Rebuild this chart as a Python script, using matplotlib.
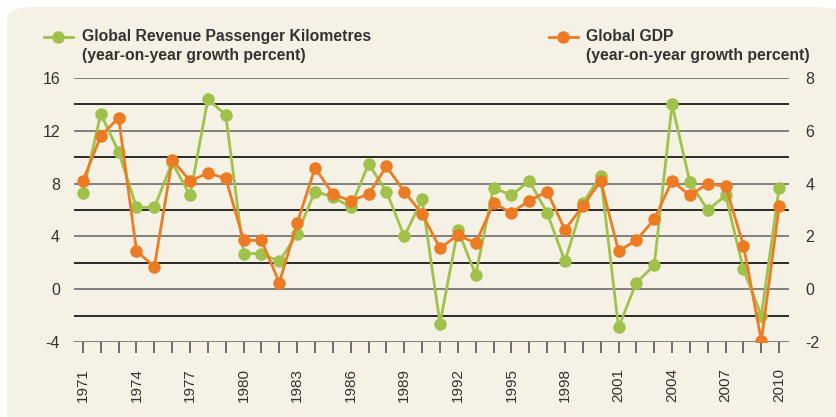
import numpy as np
import matplotlib.pyplot as plt
from matplotlib.patches import FancyBboxPatch
from matplotlib.lines import Line2D

# data
years = list(range(1971, 2011))
rpk_growth = [7.3, 13.3, 10.4, 6.2, 6.2, 9.6, 7.1, 14.4, 13.2, 2.7,
              2.7, 2.1, 4.2, 7.4, 7.0, 6.2, 9.5, 7.4, 4.0, 6.8,
              -2.6, 4.5, 1.1, 7.7, 7.1, 8.2, 5.8, 2.1, 6.5, 8.6,
              -2.9, 0.5, 1.8, 14.0, 8.1, 6.0, 7.1, 1.5, -2.0, 7.7]
gdp_growth = [4.1, 5.8, 6.5, 1.45, 0.85, 4.9, 4.1, 4.4, 4.2, 1.85,
              1.85, 0.25, 2.5, 4.6, 3.6, 3.35, 3.6, 4.65, 3.7, 2.85,
              1.55, 2.05, 1.75, 3.25, 2.9, 3.35, 3.7, 2.25, 3.15, 4.1,
              1.45, 1.85, 2.65, 4.1, 3.55, 4.0, 3.9, 1.65, -1.95, 3.15]
left_ticks = [-4, 0, 4, 8, 12, 16]
right_ticks = [-2, 0, 2, 4, 6, 8]
year_labels = list(range(1971, 2011, 3))

green = '#A0C24A'
orange = '#EC7B24'
bg = '#F5F1E4'
text_col = '#333333'

plt.rcParams['font.family'] = ['Liberation Sans', 'DejaVu Sans']

fig = plt.figure(figsize=(8.36, 4.17), dpi=100)
fig.patch.set_facecolor('white')

# cream rounded panel, behind everything
panel = FancyBboxPatch((7 / 836, -0.05), 1.0, 1.05 - 7 / 417,
                       boxstyle='round,pad=0,rounding_size=0.03',
                       transform=fig.transFigure, facecolor=bg,
                       edgecolor='none', zorder=-10)
fig.patches.append(panel)

ax = fig.add_axes([74 / 836, 1 - 342 / 417, (789 - 74) / 836, (342 - 78) / 417])
ax.set_facecolor('none')
ax2 = ax.twinx()
ax2.set_facecolor('none')

# gridlines: alternating grey / black
for v in range(-4, 17, 2):
    col = '#777777' if v % 4 == 0 else '#1a1a1a'
    ax.axhline(v, color=col, lw=1.3, zorder=1)

ax.plot(years, rpk_growth, color=green, lw=2, marker='o', markersize=9,
        markeredgewidth=0, zorder=3)
ax2.plot(years, gdp_growth, color=orange, lw=2, marker='o', markersize=9,
         markeredgewidth=0, zorder=4)

ax.set_xlim(1970.5, 2010.55)
ax.set_ylim(-4, 16)
ax2.set_ylim(-2, 8)

for a in (ax, ax2):
    for s in a.spines.values():
        s.set_visible(False)

ax.set_yticks(left_ticks)
ax.set_yticklabels([str(t) for t in left_ticks])
ax2.set_yticks(right_ticks)
ax2.set_yticklabels([str(t) for t in right_ticks])
ax.tick_params(axis='y', length=0, pad=10, labelsize=11.5, labelcolor=text_col)
ax2.tick_params(axis='y', length=0, pad=12, labelsize=11.5, labelcolor=text_col)

ax.set_xticks(years, minor=True)
ax.set_xticks(year_labels)
ax.set_xticklabels([str(y) for y in year_labels], rotation=90)
ax.tick_params(axis='x', which='both', direction='out', length=8, width=1.2,
               color='#555555', labelsize=11, labelcolor=text_col, pad=11)

# legends
fig.lines.append(Line2D([44 / 836, 73 / 836], [1 - 37 / 417] * 2, color=green,
                        lw=2, transform=fig.transFigure))
fig.lines.append(Line2D([58 / 836], [1 - 37 / 417], color=green, marker='o',
                        markersize=9, markeredgewidth=0, transform=fig.transFigure))
fig.text(82 / 836, 1 - 29 / 417, 'Global Revenue Passenger Kilometres\n(year-on-year growth percent)',
         fontsize=11.3, fontweight='bold', color=text_col, va='top',
         linespacing=1.3, transform=fig.transFigure)

fig.lines.append(Line2D([549 / 836, 578 / 836], [1 - 37 / 417] * 2, color=orange,
                        lw=2, transform=fig.transFigure))
fig.lines.append(Line2D([563 / 836], [1 - 37 / 417], color=orange, marker='o',
                        markersize=9, markeredgewidth=0, transform=fig.transFigure))
fig.text(586 / 836, 1 - 29 / 417, 'Global GDP\n(year-on-year growth percent)',
         fontsize=11.3, fontweight='bold', color=text_col, va='top',
         linespacing=1.3, transform=fig.transFigure)

plt.savefig('out.png', dpi=100, facecolor=fig.get_facecolor())
